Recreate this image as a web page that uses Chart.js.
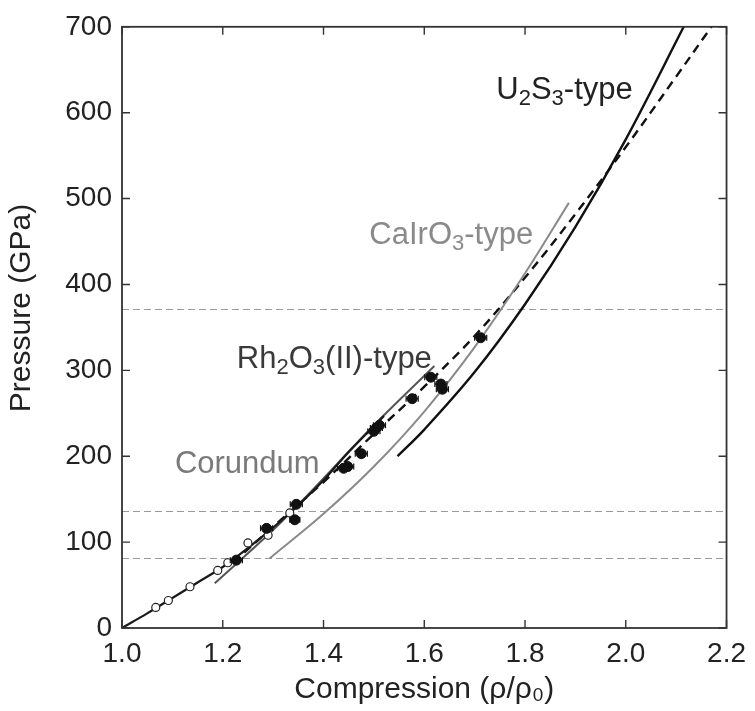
<!DOCTYPE html>
<html>
<head>
<meta charset="utf-8">
<script src="https://cdn.jsdelivr.net/npm/chart.js@4.4.1/dist/chart.umd.min.js"></script>
<style>
html,body{margin:0;padding:0;background:#fff;}
#wrap{width:755px;height:711px;position:relative;}
</style>
</head>
<body>
<div id="wrap"><canvas id="c" width="755" height="711"></canvas></div>
<script>
// ---- data ----
const xTicks = [1.0, 1.2, 1.4, 1.6, 1.8, 2.0, 2.2];
const yTicks = [0, 100, 200, 300, 400, 500, 600, 700];

// transition pressures (horizontal dashed lines), GPa
const transitionP = [82, 136, 372];

// solid black curve from origin
const lowFitX = [1.0, 1.05, 1.1, 1.15, 1.2, 1.25, 1.3, 1.35, 1.4, 1.45, 1.52];
const lowFitP = [0, 17, 35, 53, 71, 93, 117, 143, 172, 205, 247];

// dashed black curve
const dashFitX = [1.22, 1.3, 1.4, 1.5, 1.6, 1.7, 1.8, 1.9, 2.0, 2.1, 2.17];
const dashFitP = [76, 118, 170, 226, 281, 340, 408, 482, 560, 642, 700];

// U2S3-type (solid black)
const u2s3X = [1.547, 1.6, 1.7, 1.8, 1.9, 2.0, 2.115];
const u2s3P = [200, 231, 298, 377, 467, 569, 700];

// CaIrO3-type (gray)
const caIrO3X = [1.293, 1.4, 1.5, 1.6, 1.7, 1.8, 1.887];
const caIrO3P = [81, 133, 188, 252, 327, 413, 495];

// Rh2O3(II)-type (dark gray)
const rh2o3X = [1.184, 1.3, 1.372, 1.5, 1.62];
const rh2o3P = [52, 114, 157, 236, 305];

// filled data points with horizontal error (compression)
const filledX = [1.227, 1.287, 1.346, 1.343, 1.448, 1.44, 1.475, 1.50, 1.511, 1.505, 1.576, 1.613, 1.633, 1.636, 1.712];
const filledP = [79, 116, 144, 126, 188, 186, 203, 229, 236, 233, 267, 292, 284, 278, 338];
const filledErrX = [0.012, 0.012, 0.012, 0.01, 0.012, 0.012, 0.012, 0.012, 0.012, 0.012, 0.012, 0.012, 0.012, 0.012, 0.012];

// open circles
const openX = [1.067, 1.092, 1.135, 1.19, 1.21, 1.25, 1.29, 1.333];
const openP = [24, 32, 48, 67, 76, 99, 108, 134];

// curve labels
const curveLabels = [
  {parts: [["U", 0], ["2", 1], ["S", 0], ["3", 1], ["-type", 0]], x: 1.743, p: 626, color: "#222"},
  {parts: [["CaIrO", 0], ["3", 1], ["-type", 0]], x: 1.491, p: 457, color: "#8a8a8a"},
  {parts: [["Rh", 0], ["2", 1], ["O", 0], ["3", 1], ["(II)-type", 0]], x: 1.228, p: 313, color: "#3a3a3a"},
  {parts: [["Corundum", 0]], x: 1.105, p: 191, color: "#7a7a7a"}
];

const yTitle = 'Pressure (GPa)';
const xTitle = 'Compression (ρ/ρ₀)';

// ---- build ----
const pts = (xs, ys) => xs.map((v, i) => ({x: v, y: ys[i]}));
const FONT = "'Liberation Sans', Arial, sans-serif";

const lineDs = (label, xs, ys, color, width, dash) => ({
  type: 'line', label, data: pts(xs, ys), borderColor: color, borderWidth: width,
  borderDash: dash || [], pointRadius: 0, fill: false, tension: 0.35,
  cubicInterpolationMode: 'default', order: 2
});

const frameAndTicks = {
  id: 'frameAndTicks',
  beforeDatasetsDraw(chart) {
    const {ctx, chartArea: a, scales: {y}} = chart;
    ctx.save();
    ctx.strokeStyle = '#9a9a9a';
    ctx.lineWidth = 1;
    ctx.setLineDash([7, 4]);
    transitionP.forEach(p => {
      const py = Math.round(y.getPixelForValue(p)) + 0.5;
      ctx.beginPath(); ctx.moveTo(a.left, py); ctx.lineTo(a.right, py); ctx.stroke();
    });
    ctx.restore();
  },
  afterDraw(chart) {
    const {ctx} = chart;
    ctx.save();
    ctx.translate(22, 308);
    ctx.rotate(-Math.PI / 2);
    ctx.fillStyle = '#222';
    ctx.font = `30px ${FONT}`;
    ctx.textAlign = 'center';
    ctx.textBaseline = 'middle';
    ctx.fillText(yTitle, 0, 0);
    ctx.restore();
  },
  afterDatasetsDraw(chart) {
    const {ctx, chartArea: a, scales: {x, y}} = chart;
    ctx.save();
    // error bars
    ctx.strokeStyle = '#111'; ctx.lineWidth = 1.2;
    filledX.forEach((v, i) => {
      const x0 = x.getPixelForValue(v - filledErrX[i]);
      const x1 = x.getPixelForValue(v + filledErrX[i]);
      const py = y.getPixelForValue(filledP[i]);
      ctx.beginPath(); ctx.moveTo(x0, py); ctx.lineTo(x1, py);
      ctx.moveTo(x0, py - 3); ctx.lineTo(x0, py + 3);
      ctx.moveTo(x1, py - 3); ctx.lineTo(x1, py + 3);
      ctx.stroke();
    });
    // frame
    ctx.strokeStyle = '#333'; ctx.lineWidth = 1.8;
    ctx.strokeRect(a.left, a.top, a.right - a.left, a.bottom - a.top);
    // inward ticks
    ctx.lineWidth = 1.4;
    const L = 8;
    xTicks.forEach(v => {
      const px = x.getPixelForValue(v);
      ctx.beginPath();
      ctx.moveTo(px, a.bottom); ctx.lineTo(px, a.bottom - L);
      ctx.moveTo(px, a.top); ctx.lineTo(px, a.top + L);
      ctx.stroke();
    });
    yTicks.forEach(v => {
      const py = y.getPixelForValue(v);
      ctx.beginPath();
      ctx.moveTo(a.left, py); ctx.lineTo(a.left + L, py);
      ctx.moveTo(a.right, py); ctx.lineTo(a.right - L, py);
      ctx.stroke();
    });
    // curve labels
    const fs = 31;
    curveLabels.forEach(lb => {
      let px = x.getPixelForValue(lb.x);
      const py = y.getPixelForValue(lb.p);
      ctx.fillStyle = lb.color;
      ctx.textBaseline = 'middle';
      ctx.textAlign = 'left';
      lb.parts.forEach(([t, sub]) => {
        if (sub) {
          ctx.font = `${Math.round(fs * 0.72)}px ${FONT}`;
          ctx.fillText(t, px, py + fs * 0.28);
        } else {
          ctx.font = `${fs}px ${FONT}`;
          ctx.fillText(t, px, py);
        }
        px += ctx.measureText(t).width;
      });
    });
    ctx.restore();
  }
};

new Chart(document.getElementById('c'), {
  type: 'scatter',
  data: {
    datasets: [
      lineDs('Corundum fit', lowFitX, lowFitP, '#1a1a1a', 2.2),
      lineDs('Rh2O3(II)-type', rh2o3X, rh2o3P, '#555', 2),
      lineDs('CaIrO3-type', caIrO3X, caIrO3P, '#8a8a8a', 2),
      lineDs('U2S3-type', u2s3X, u2s3P, '#111', 2.4),
      lineDs('Hugoniot fit', dashFitX, dashFitP, '#111', 2.4, [9, 6]),
      {
        label: 'open', data: pts(openX, openP), pointRadius: 4, pointBackgroundColor: '#fff',
        pointBorderColor: '#222', pointBorderWidth: 1.2, order: 1
      },
      {
        label: 'filled', data: pts(filledX, filledP), pointRadius: 5, pointBackgroundColor: '#111',
        pointBorderColor: '#111', pointBorderWidth: 1, order: 0
      }
    ]
  },
  options: {
    responsive: false,
    animation: false,
    events: [],
    layout: {padding: {left: 0, right: 27, top: 21, bottom: 0}},
    plugins: {legend: {display: false}, tooltip: {enabled: false}},
    scales: {
      x: {
        type: 'linear', min: 1.0, max: 2.2,
        afterBuildTicks: s => { s.ticks = xTicks.map(v => ({value: v})); },
        afterFit: s => { s.height = 83; },
        grid: {display: false, drawTicks: false},
        border: {display: false},
        ticks: {
          color: '#222', font: {family: FONT, size: 28}, padding: 9, maxRotation: 0,
          callback: v => v.toFixed(1)
        },
        title: {display: true, text: xTitle, color: '#222',
          font: {family: FONT, size: 30, lineHeight: 1.2}, padding: {top: 0, bottom: 3}}
      },
      y: {
        type: 'linear', min: 0, max: 700,
        afterBuildTicks: s => { s.ticks = yTicks.map(v => ({value: v})); },
        afterFit: s => { s.width = 122; },
        grid: {display: false, drawTicks: false},
        border: {display: false},
        ticks: {color: '#222', font: {family: FONT, size: 28}, padding: 10},
        title: {display: false}
      }
    }
  },
  plugins: [frameAndTicks]
});
</script>
</body>
</html>
